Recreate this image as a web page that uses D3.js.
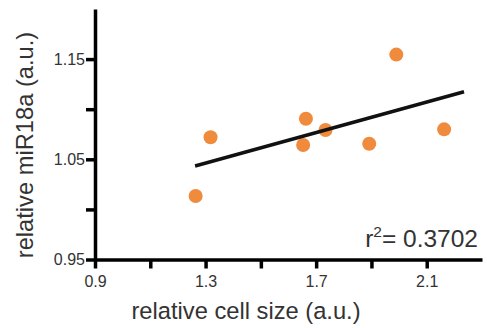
<!DOCTYPE html>
<html>
<head>
<meta charset="utf-8">
<script src="https://cdn.jsdelivr.net/npm/d3@7"></script>
<style>
  body { margin: 0; background: #fff; }
  svg { display: block; font-family: "Liberation Sans", Arial, sans-serif; }
  .axis .domain, .axis line { stroke: #000; stroke-width: 3.5px; }
  .axis text { fill: #333; font-size: 16px; }
  .label { fill: #333; font-size: 23.7px; }
</style>
</head>
<body>
<div id="chart"></div>
<script>
// Cell size vs miR18a measurements
const cellSize = [1.264, 1.318, 1.653, 1.663, 1.734, 1.892, 1.990, 2.163];
const mir18a   = [1.0134, 1.0720, 1.0643, 1.0905, 1.0792, 1.06552, 1.1545, 1.0799];

// Axis ticks (every other tick is labelled)
const xTicks = [0.9, 1.1, 1.3, 1.5, 1.7, 1.9, 2.1];
const xTickLabels = ['0.9', '', '1.3', '', '1.7', '', '2.1'];
const yTicks = [0.95, 1.0, 1.05, 1.1, 1.15];
const yTickLabels = ['0.95', '', '1.05', '', '1.15'];

// x extent covered by the fitted line
const fitExtent = [1.262, 2.235];

const W = 487, H = 328;

const svg = d3.select('#chart')
    .append('svg')
    .attr('width', W)
    .attr('height', H);

const x = d3.scaleLinear().domain([0.9, 2.3]).range([95, 482]);
const y = d3.scaleLinear().domain([0.95, 1.2]).range([259.5, 9]);

// Least squares fit
const n = cellSize.length;
const mx = d3.mean(cellSize), my = d3.mean(mir18a);
let sxy = 0, sxx = 0, syy = 0;
for (let i = 0; i < n; i++) {
    const dx = cellSize[i] - mx, dy = mir18a[i] - my;
    sxy += dx * dy; sxx += dx * dx; syy += dy * dy;
}
const slope = sxy / sxx;
const intercept = my - slope * mx;
const r2 = (sxy * sxy) / (sxx * syy);

// Points
svg.append('g')
    .selectAll('circle')
    .data(cellSize.map((c, i) => [c, mir18a[i]]))
    .enter()
    .append('circle')
    .attr('cx', d => x(d[0]))
    .attr('cy', d => y(d[1]))
    .attr('r', 7)
    .attr('fill', '#f08b3d');

// Regression line
svg.append('line')
    .attr('x1', x(fitExtent[0]))
    .attr('y1', y(intercept + slope * fitExtent[0]))
    .attr('x2', x(fitExtent[1]))
    .attr('y2', y(intercept + slope * fitExtent[1]))
    .attr('stroke', '#111')
    .attr('stroke-width', 3.5);

// Axes
svg.append('g')
    .attr('class', 'axis')
    .attr('transform', `translate(0,${y(0.95)})`)
    .call(d3.axisBottom(x)
        .tickValues(xTicks)
        .tickFormat((d, i) => xTickLabels[i])
        .tickSize(9)
        .tickSizeOuter(0)
        .tickPadding(7));

svg.append('g')
    .attr('class', 'axis')
    .attr('transform', `translate(${x(0.9)},0)`)
    .call(d3.axisLeft(y)
        .tickValues(yTicks)
        .tickFormat((d, i) => yTickLabels[i])
        .tickSize(9)
        .tickSizeOuter(0)
        .tickPadding(1));

// Axis titles
svg.append('text')
    .attr('class', 'label')
    .attr('x', 246)
    .attr('y', 319)
    .attr('text-anchor', 'middle')
    .text('relative cell size (a.u.)');

svg.append('text')
    .attr('class', 'label')
    .attr('transform', 'translate(33,145) rotate(-90)')
    .attr('text-anchor', 'middle')
    .text('relative miR18a (a.u.)');

// r² annotation
const r2Text = svg.append('text')
    .attr('class', 'label')
    .attr('x', 478)
    .attr('y', 247)
    .style('font-size', '24.5px')
    .attr('text-anchor', 'end');
r2Text.append('tspan').text('r');
r2Text.append('tspan').attr('dy', -10).style('font-size', '15.5px').text('2');
r2Text.append('tspan').attr('dy', 10).text('= ' + r2.toFixed(4));
</script>
</body>
</html>
